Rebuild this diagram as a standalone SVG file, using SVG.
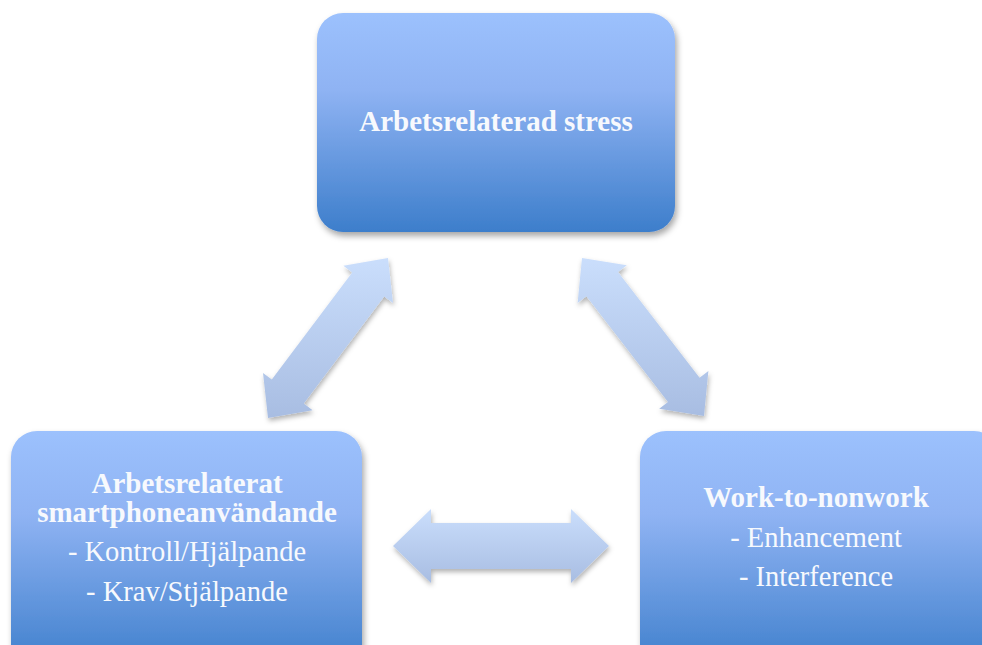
<svg xmlns="http://www.w3.org/2000/svg" width="982" height="645" viewBox="0 0 982 645">
<defs>
<linearGradient id="boxg" x1="0" y1="0" x2="0" y2="1">
<stop offset="0" stop-color="#9cc1fd"/>
<stop offset="0.35" stop-color="#8fb3f3"/>
<stop offset="1" stop-color="#3d7ecb"/>
</linearGradient>
<linearGradient id="arrg" x1="0" y1="0" x2="0" y2="1">
<stop offset="0" stop-color="#cadefc"/>
<stop offset="1" stop-color="#a8bde2"/>
</linearGradient>
<filter id="sh" x="-20%" y="-20%" width="140%" height="140%">
<feDropShadow dx="2" dy="4" stdDeviation="3" flood-color="#000" flood-opacity="0.35"/>
</filter>
<filter id="ash" x="-20%" y="-20%" width="140%" height="140%">
<feDropShadow dx="1" dy="3" stdDeviation="2.5" flood-color="#000" flood-opacity="0.3"/>
</filter>
</defs>
<style>
.box{fill:url(#boxg);filter:url(#sh);}
.arr{fill:url(#arrg);filter:url(#ash);}
text{font-family:"Liberation Serif","DejaVu Serif",serif;font-size:28.5px;fill:#f7f9fd;text-anchor:middle;}
.b{font-weight:bold;font-size:29px;}
</style>
<g id="connectors">
<polygon class="arr" points="388,258 393,303 384.2,296.4 303.8,403.6 312.6,410.2 268,418 263,373 271.8,379.6 352.2,272.4 343.4,265.8"/>
<polygon class="arr" points="582,258 626.8,265.2 618,271.9 699.6,377.7 708.4,371 704,416 659.2,408.8 668,402.1 586.4,296.3 577.6,303"/>
<polygon class="arr" points="393,546 431,509 431,523 571,523 571,509 609,546 571,583 571,569 431,569 431,583"/>
</g>
<g id="node-stress">
<rect class="box" x="317" y="13" width="358" height="219" rx="26"/>
<text class="b" x="496" y="131">Arbetsrelaterad stress</text>
</g>
<g id="node-smartphone">
<rect class="box" x="11" y="431" width="351" height="240" rx="26"/>
<text class="b" x="187" y="493">Arbetsrelaterat</text>
<text class="b" x="187" y="522">smartphoneanvändande</text>
<text x="187" y="561">- Kontroll/Hjälpande</text>
<text x="187" y="601">- Krav/Stjälpande</text>
</g>
<g id="node-work">
<rect class="box" x="640" y="431" width="360" height="240" rx="26"/>
<text class="b" x="816" y="507">Work-to-nonwork</text>
<text x="816" y="547">- Enhancement</text>
<text x="816" y="586">- Interference</text>
</g>
</svg>
